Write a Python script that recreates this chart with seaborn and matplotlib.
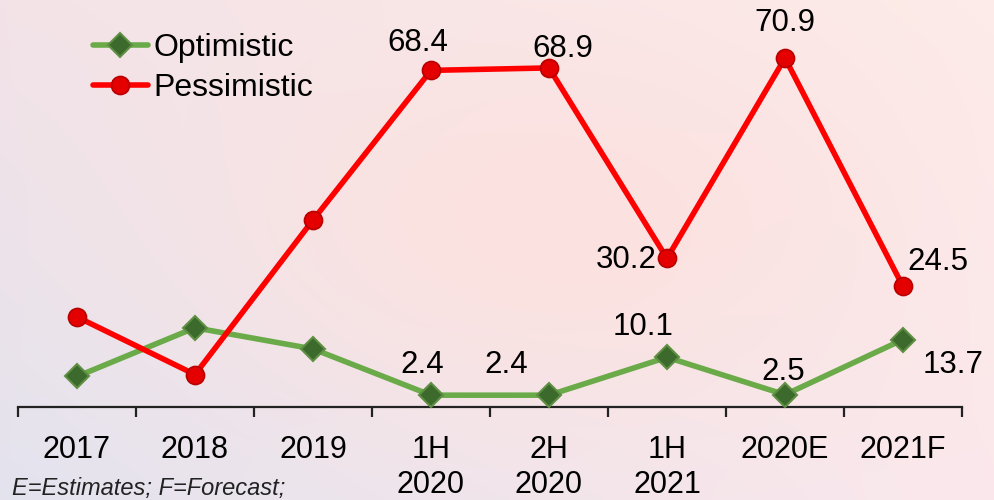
import numpy as np
import pandas as pd
import matplotlib
matplotlib.use("Agg")
import matplotlib.pyplot as plt
import seaborn as sns
from matplotlib.lines import Line2D
from matplotlib.colors import to_rgb

# ---- data -------------------------------------------------------------
periods = ["2017", "2018", "2019", "1H\n2020", "2H\n2020", "1H\n2021", "2020E", "2021F"]
optimistic = [6.2, 16.1, 11.8, 2.4, 2.4, 10.1, 2.5, 13.7]
pessimistic = [18.3, 6.6, 38.0, 68.4, 68.9, 30.2, 70.9, 24.5]
series_names = ["Optimistic", "Pessimistic"]
footnote = "E=Estimates; F=Forecast;"

# ---- styling ------------------------------------------------------------
sns.set_style("white")
plt.rcParams["font.family"] = ["Liberation Sans", "DejaVu Sans"]
plt.rcParams["text.color"] = "#000000"

GREEN_LINE = "#6aaa48"
GREEN_FACE = "#3c6a2c"
GREEN_EDGE = "#5e8f42"
RED_LINE = "#ff0000"
RED_FACE = "#e40000"
RED_EDGE = "#b80000"

# label offsets (pixels) for the annotated points, keyed by point index
opt_offsets = {3: (-9, 30), 4: (-43, 30), 5: (-24, 30), 6: (-2, 23), 7: (50, -25)}
pes_offsets = {3: (-13, 27), 4: (14, 19), 5: (-41, -2), 6: (0, 35), 7: (35, 24)}

W, H = 995, 500
fig = plt.figure(figsize=(W / 100, H / 100), dpi=100)

# soft pink / lavender backdrop
bg = fig.add_axes([0, 0, 1, 1])
gh, gw = 250, 500
yy, xx = np.mgrid[0:1:gh * 1j, 0:1:gw * 1j]
tl, tr, bl, br = [np.array(to_rgb(c)) for c in ("#f3e3e8", "#fdece9", "#e3e3ee", "#fbe8ec")]
X = xx[..., None]
Y = yy[..., None]
base = tl * (1 - X) * (1 - Y) + tr * X * (1 - Y) + bl * (1 - X) * Y + br * X * Y
warm = np.array(to_rgb("#fde1de"))
g = np.exp(-(((xx - 0.55) / 0.35) ** 2 + ((yy - 0.45) / 0.4) ** 2))[..., None] * 0.85
img = base * (1 - g) + warm * g
bg.imshow(img, aspect="auto", extent=[0, 1, 0, 1], interpolation="bilinear")
bg.set_axis_off()

ax = fig.add_axes([18 / W, 93 / H, 944 / W, 407 / H])
ax.patch.set_alpha(0)

pos = np.arange(len(periods))
df = pd.DataFrame({"pos": pos, "Optimistic": optimistic, "Pessimistic": pessimistic})

sns.lineplot(data=df, x="pos", y="Optimistic", ax=ax, color=GREEN_LINE, linewidth=4,
             marker="D", markersize=12, markerfacecolor=GREEN_FACE,
             markeredgecolor=GREEN_EDGE, markeredgewidth=1.5, clip_on=False, zorder=3)
sns.lineplot(data=df, x="pos", y="Pessimistic", ax=ax, color=RED_LINE, linewidth=4,
             marker="o", markersize=13, markerfacecolor=RED_FACE,
             markeredgecolor=RED_EDGE, markeredgewidth=1.2, clip_on=False, zorder=4)

# value labels
for values, offsets in ((optimistic, opt_offsets), (pessimistic, pes_offsets)):
    for i, (dx, dy) in offsets.items():
        ax.annotate(f"{values[i]:.1f}", (pos[i], values[i]), xytext=(dx, dy),
                    textcoords="offset pixels", ha="center", va="center",
                    fontsize=22.5, color="#000000", zorder=5)

ax.set_xlim(-0.5, len(periods) - 0.5)
ax.set_ylim(0, 82.7)
ax.set_xlabel("")
ax.set_ylabel("")
ax.set_yticks([])

for side in ("left", "top", "right"):
    ax.spines[side].set_visible(False)
ax.spines["bottom"].set_linewidth(1.6)
ax.spines["bottom"].set_color("#222222")

# boundary ticks between categories, labels centred on each category
ax.set_xticks(np.arange(-0.5, len(periods), 1.0))
ax.set_xticklabels([])
ax.set_xticks(pos, minor=True)
ax.set_xticklabels(periods, minor=True)
ax.tick_params(axis="x", which="major", bottom=True, length=7, width=1.6,
               direction="out", color="#222222")
ax.tick_params(axis="x", which="minor", bottom=True, length=0, pad=20,
               labelsize=22, labelcolor="#000000")
for lab in ax.get_xticklabels(minor=True):
    lab.set_linespacing(1.24)

handles = [
    Line2D([], [], color=GREEN_LINE, linewidth=4, marker="D", markersize=12,
           markerfacecolor=GREEN_FACE, markeredgecolor=GREEN_EDGE, markeredgewidth=1.5),
    Line2D([], [], color=RED_LINE, linewidth=4, marker="o", markersize=13,
           markerfacecolor=RED_FACE, markeredgecolor=RED_EDGE, markeredgewidth=1.2),
]
fig.legend(handles, series_names, loc="upper left", bbox_to_anchor=(93 / W, 1 - 33 / H),
           frameon=False, fontsize=23, handlelength=1.72, handletextpad=0.16,
           labelspacing=0.32, borderpad=0, borderaxespad=0, labelcolor="#000000")

fig.text(12 / W, 5 / H, footnote, fontsize=17, style="italic", color="#222222",
         ha="left", va="baseline")

fig.savefig("out.png", dpi=100)
